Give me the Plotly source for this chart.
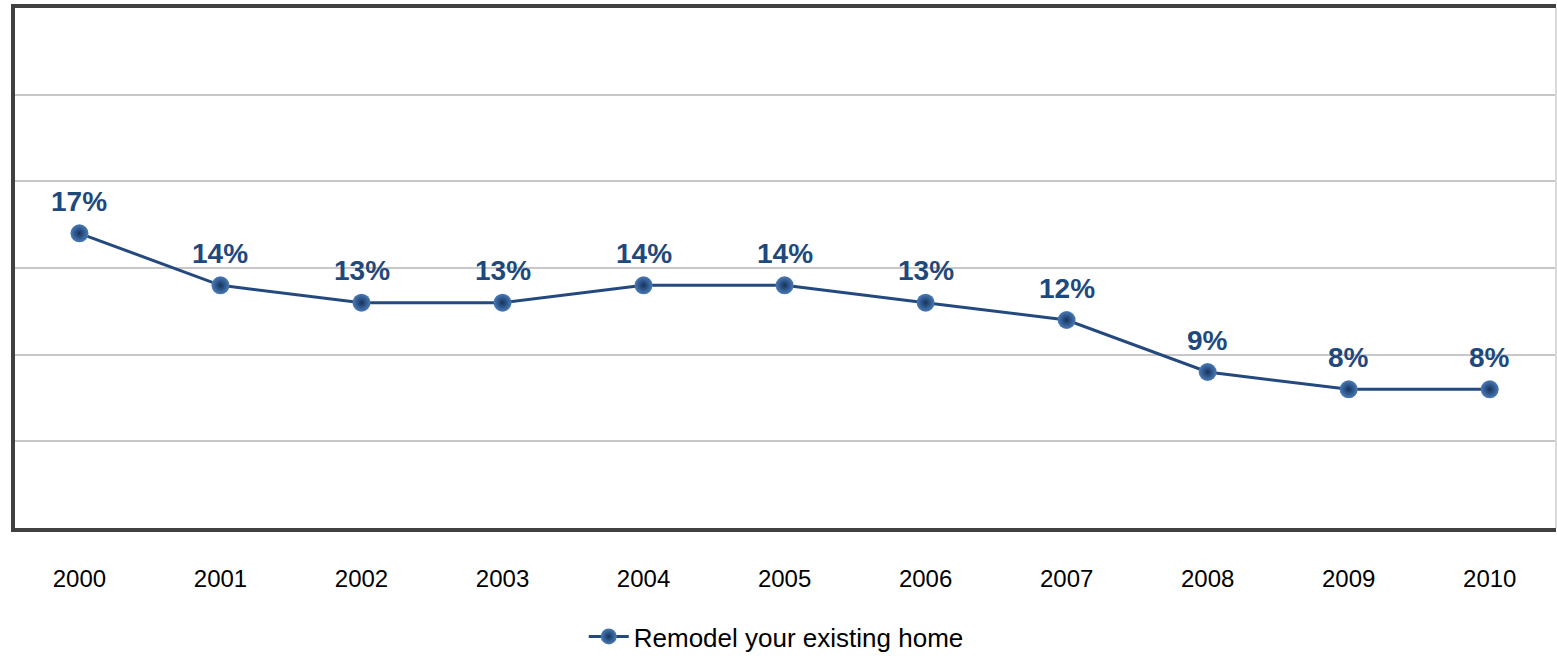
import plotly.graph_objects as go

# Share of respondents planning to remodel, by year
years = ["2000", "2001", "2002", "2003", "2004", "2005",
         "2006", "2007", "2008", "2009", "2010"]
remodel_pct = [17, 14, 13, 13, 14, 14, 13, 12, 9, 8, 8]
series_name = "Remodel your existing home"

LINE_BLUE = "#24497F"
LABEL_BLUE = "#1F497D"
FONT = "Arial, Liberation Sans, sans-serif"

fig = go.Figure()
fig.add_trace(go.Scatter(
    x=years,
    y=remodel_pct,
    mode="lines+markers",
    name=series_name,
    line=dict(color=LINE_BLUE, width=3),
    marker=dict(
        size=18,
        color="#4A7BB8",
        gradient=dict(type="radial", color="#15335E"),
        line=dict(width=0),
    ),
))

# Bold value labels above each point (category axis: position by category index,
# since year-like strings would otherwise be read as numeric positions)
for i, v in enumerate(remodel_pct):
    fig.add_annotation(
        x=i, y=v, xref="x", yref="y",
        text=f"<b>{v}%</b>",
        showarrow=False, yshift=32, yanchor="middle", xanchor="center",
        font=dict(family=FONT, size=28, color=LABEL_BLUE),
    )

# Light right border of the plot frame
fig.add_shape(type="line", xref="paper", yref="paper",
              x0=1, x1=1, y0=0, y1=1,
              line=dict(color="#D9D9D9", width=2))

fig.update_layout(
    width=1557, height=660,
    margin=dict(l=15, r=1, t=8, b=131),
    paper_bgcolor="white",
    plot_bgcolor="white",
    font=dict(family=FONT, size=24, color="black"),
    showlegend=True,
    legend=dict(
        orientation="h", x=0.494, xanchor="center",
        y=-0.207, yanchor="middle",
        font=dict(family=FONT, size=26, color="black"),
        itemwidth=40,
    ),
    xaxis=dict(
        type="category",
        range=[-0.457, 10.47],
        showgrid=False,
        showline=True, linecolor="#404040", linewidth=4, mirror=True,
        ticks="", ticklabelstandoff=26,
        tickfont=dict(family=FONT, size=24, color="black"),
        zeroline=False,
    ),
    yaxis=dict(
        range=[0, 30],
        dtick=5,
        showgrid=True, gridcolor="#C8C8C8", gridwidth=2,
        showline=True, linecolor="#404040", linewidth=4,
        showticklabels=False, ticks="",
        zeroline=False,
    ),
)

fig.write_html("out.html")
